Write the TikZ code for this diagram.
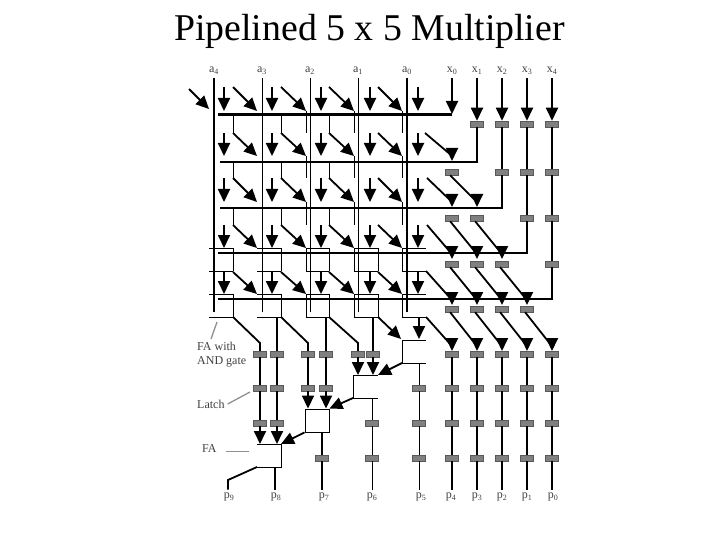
\documentclass[tikz,border=0pt]{standalone}
\usepackage{fontspec}
\setmainfont{Liberation Serif}
\usetikzlibrary{arrows.meta}
\definecolor{latchgray}{HTML}{808080}
\definecolor{leadgray}{HTML}{909090}
\tikzset{
  latch/.style={draw=black!65, fill=latchgray, line width=0.5pt, minimum width=13pt, minimum height=6pt, inner sep=0pt},
  thinwire/.style={line width=0.9pt},
  wire/.style={line width=1.8pt},
  heavywire/.style={line width=3pt},
  headwire/.style={wire, -{Triangle[length=13pt,width=12pt]}},
  inlabel/.style={font=\fontsize{12}{14}\selectfont, text=black!75, inner sep=3pt},
  faframe/.style={draw, thinwire, minimum width=24pt, minimum height=23pt, inner sep=0pt},
  leader/.style={leadgray, line width=1.3pt}
}
\begin{document}
\begin{tikzpicture}[x=1pt,y=-1pt]
  \useasboundingbox (0,0) rectangle (720,540);
  \node[font=\fontsize{37.8}{40}\selectfont] (title) at (369.5,31) {Pipelined 5 x 5 Multiplier};

  \foreach \c/\xl in {4/214,3/262,2/310,1/358,0/407}
    \node[inlabel] (a\c) at (\xl,71) {a\textsubscript{\c}};
  \foreach \c/\xl in {0/452,1/477,2/502,3/527,4/552}
    \node[inlabel] (x\c) at (\xl,71) {x\textsubscript{\c}};
  \foreach \c/\xl in {9/229,8/276,7/324,6/372,5/421,4/451,3/477,2/502,1/527,0/553}
    \node[inlabel] (p\c) at (\xl,497) {p\textsubscript{\c}};

  \foreach \xl/\yl in {477/{124},502/{124,172},527/{124,172,218},552/{124,172,218,264},
      452/{172,218,264,309,354,388,423,458},477/{218,264,309,354,388,423,458},
      502/{264,309,354,388,423,458},527/{309,354,388,423,458},552/{354,388,423,458},
      260/{354,388,423},277/{354,388,423},308/{354,388},326/{354,388},358/{354},373/{354},
      372/{423,458},322/{458},419/{388,423,458}}
    \foreach \yy in \yl
      \node[latch] (lat-\xl-\yy) at (\xl,\yy) {};

  \coordinate (r1) at (218,115);
  \coordinate (r2) at (220,162);
  \coordinate (r3) at (220,208);
  \coordinate (r4) at (218,253);
  \coordinate (r5) at (218,299);
  \coordinate (x0end) at (452,115);
  \coordinate (x0tip) at (452,114);
  \draw[heavywire] (r1) -- (x0end);
  \draw[wire] (r2) -| (lat-477-124);
  \draw[wire] (r3) -| (lat-502-172);
  \draw[wire] (r4) -| (lat-527-218);
  \draw[wire] (r5) -| (lat-552-264);
  \draw[headwire] (x0) -- (x0tip);
  \foreach \c/\xl in {1/477,2/502,3/527,4/552}
    \draw[headwire] (x\c) -- (lat-\xl-124);
  \draw[wire] (lat-502-124) -- (lat-502-172);
  \draw[wire] (lat-527-124) -- (lat-527-172) -- (lat-527-218);
  \draw[wire] (lat-552-124) -- (lat-552-172) -- (lat-552-218) -- (lat-552-264);

  \draw[wire] (a4) -- (a4 |- 0,312);
  \draw[wire] (a0) -- (a0 |- 0,312);
  \foreach \c in {3,2,1}
    \draw[thinwire] (a\c) -- (a\c |- 0,312);

  \coordinate (in) at (189,89);
  \coordinate (intip) at (209,109);
  \draw[headwire] (in) -- (intip);

  \foreach \r/\ya/\yb in {1/87/111,2/133/156,3/178/202,4/225/248,5/272/294}{
    \foreach \c/\xd/\xs/\xe in {1/224/233/257,2/272/281/306,3/321/329/354,4/370/378/402}{
      \coordinate (d\c\r) at (\xd,\ya);
      \coordinate (dt\c\r) at (\xd,\yb);
      \coordinate (s\c\r) at (\xs,\ya);
      \coordinate (e\c\r) at (\xe,\yb);
      \draw[headwire] (d\c\r) -- (dt\c\r);
      \draw[headwire] (s\c\r) -- (e\c\r);
    }
    \coordinate (d5\r) at (418,\ya);
    \coordinate (dt5\r) at (418,\yb);
    \draw[headwire] (d5\r) -- (dt5\r);
  }

  \foreach \r/\n in {1/2,2/3,3/4}{
    \foreach \c in {1,2,3}
      \draw[thinwire] (s\c\n |- r\r) -- (s\c\n);
    \foreach \c in {2,3,4}
      \draw[thinwire] (e\c\r) -- (e\c\r |- s1\n);
  }

  \foreach \r/\yt/\yb in {4/248/271,5/294/317}{
    \foreach \c/\xl/\xr in {1/209/233,2/257/281,3/306/329,4/354/378,5/402/426}{
      \coordinate (tl\c\r) at (\xl,\yt);
      \coordinate (tr\c\r) at (\xr,\yt);
      \coordinate (bl\c\r) at (\xl,\yb);
      \coordinate (br\c\r) at (\xr,\yb);
      \draw[thinwire] (tl\c\r) -- (tr\c\r);
      \draw[thinwire] (bl\c\r) -- (br\c\r);
    }
    \foreach \c in {1,2,3,4}
      \draw[thinwire] (tr\c\r) -- (br\c\r);
    \foreach \c in {3,4,5}
      \draw[thinwire] (tl\c\r) -- (bl\c\r);
  }

  \coordinate (s52) at (425,133);
  \coordinate (s53) at (427,178);
  \coordinate (s54) at (427,225);
  \foreach \from/\xe/\ye in {s52/452/161,s53/452/207,lat-452-172.240/477/207,
      s54/452/259,lat-452-218.240/477/259,lat-477-218.240/502/259,
      br54/452/305,lat-452-264.240/477/305,lat-477-264.240/502/305,lat-502-264.240/527/305,
      br55/452/351,lat-452-309.240/477/351,lat-477-309.240/502/351,lat-502-309.240/527/351,lat-527-309.240/552/351}{
    \draw[wire] (\from) -- ({\xe-1},{\ye-6});
    \draw[headwire] (\xe,{\ye-13}) -- (\xe,\ye);
  }
  \foreach \c/\xl in {4/452,3/477,2/502,1/527,0/552}
    \draw[wire] (lat-\xl-354) -- (lat-\xl-388) -- (lat-\xl-423) -- (lat-\xl-458) -- (lat-\xl-458 |- p\c.north);

  \node[faframe] (fa3) at (317,420.5) {};
  \coordinate (fa1tl) at (402,340);
  \coordinate (fa1tr) at (426,340);
  \coordinate (fa1bl) at (402,363);
  \coordinate (fa1br) at (426,363);
  \coordinate (fa2tl) at (353,375);
  \coordinate (fa2tr) at (378,375);
  \coordinate (fa2bl) at (353,398);
  \coordinate (fa2br) at (378,398);
  \coordinate (fa4tl) at (257,444);
  \coordinate (fa4tr) at (281,444);
  \coordinate (fa4br) at (281,467);
  \coordinate (fa4bl) at (257,467);
  \draw[thinwire] (fa1tr) -- (fa1tl) -- (fa1bl) -- (fa1br);
  \draw[thinwire] (fa2tr) -- (fa2tl) -- (fa2bl) -- (fa2br);
  \draw[thinwire] (fa4tl) -- (fa4tr) -- (fa4br) -- (fa4bl);

  \coordinate (d56) at (419,317);
  \coordinate (dt56) at (419,339);
  \draw[headwire] (d56) -- (dt56);
  \coordinate (e46) at (401,339);
  \draw[headwire] (br45) -- (e46);

  \draw[wire] (br15) -- (260,343) -- (lat-260-354);
  \draw[wire] (br25) -- (308,343) -- (lat-308-354);
  \draw[wire] (br35) -- (358,343) -- (lat-358-354);
  \draw[wire] (lat-277-354 |- bl25) -- (lat-277-354);
  \draw[wire] (lat-326-354 |- bl25) -- (lat-326-354);
  \draw[wire] (lat-373-354 |- bl25) -- (lat-373-354);
  \draw[wire] (lat-260-354) -- (lat-260-388) -- (lat-260-423);
  \draw[wire] (lat-277-354) -- (lat-277-388) -- (lat-277-423);
  \draw[wire] (lat-308-354) -- (lat-308-388);
  \draw[wire] (lat-326-354) -- (lat-326-388);
  \draw[headwire] (lat-260-423) -- (lat-260-423 |- fa4tl);
  \draw[headwire] (lat-277-423) -- (lat-277-423 |- fa4tl);
  \draw[headwire] (lat-308-388) -- (lat-308-388 |- fa3.north);
  \draw[headwire] (lat-326-388) -- (lat-326-388 |- fa3.north);
  \draw[headwire] (lat-358-354) -- (lat-358-354 |- fa2tl);
  \draw[headwire] (lat-373-354) -- (lat-373-354 |- fa2tl);
  \draw[headwire] (fa1bl) -- (fa2tr);
  \draw[headwire] (fa2bl) -- (fa3.north east);
  \draw[headwire] (fa3.south west) -- (fa4tr);

  \draw[thinwire] (lat-419-388 |- fa1bl) -- (lat-419-388) -- (lat-419-423) -- (lat-419-458) -- (lat-419-458 |- p5.north);
  \draw[thinwire] (lat-372-423 |- fa2bl) -- (lat-372-423) -- (lat-372-458) -- (lat-372-458 |- p6.north);
  \draw[wire] (fa3.south -| lat-322-458) -- (lat-322-458) -- (lat-322-458 |- p7.north);
  \coordinate (p8top) at (275,467);
  \draw[wire] (p8top) -- (p8top |- p8.north);
  \coordinate (p9bend) at (228,480);
  \draw[wire] (fa4bl) -- (p9bend) -- (p9bend |- p9.north);

  \node[inlabel, align=left, anchor=north west] (fawith) at (194,339) {FA with\\AND gate};
  \node[inlabel, anchor=west] (latchlabel) at (194,404) {Latch};
  \node[inlabel, anchor=west] (falabel) at (199,449) {FA};
  \coordinate (fawithend) at (217,322);
  \coordinate (latchend) at (250,392);
  \coordinate (faend) at (249,451);
  \draw[leader] (fawithend) -- (fawith.north -| 211,0);
  \draw[leader] (latchlabel.east) -- (latchend);
  \draw[leader, line width=0.8pt] (falabel.east) ++(6,2) -- (faend);
\end{tikzpicture}
\end{document}
